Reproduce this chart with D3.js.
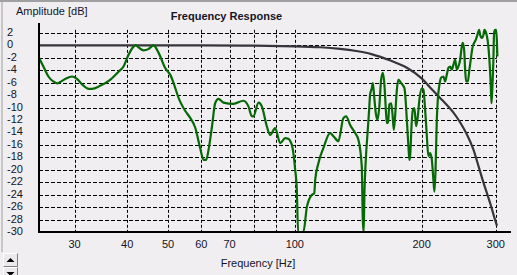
<!DOCTYPE html>
<html>
<head>
<meta charset="utf-8">
<script src="https://cdn.jsdelivr.net/npm/d3@7/dist/d3.min.js"></script>
<style>
  html, body { margin: 0; padding: 0; background: #f0eef0; }
  svg { display: block; }
  text { font-family: "Liberation Sans", Arial, sans-serif; font-size: 11px; fill: #141428; }
</style>
</head>
<body>
<svg id="chart" width="517" height="275"></svg>
<script>
// ---- data ----
const xTickLabels = [30, 40, 50, 60, 70, 100, 200, 300];
const xGridValues = [30, 40, 50, 60, 70, 80, 90, 100, 200, 300];
const yTickLabels = [2, 0, -2, -4, -6, -8, -10, -12, -14, -16, -18, -20, -22, -24, -26, -28, -30];

// target (black) curve: frequency [Hz], amplitude [dB]
const targetFreq = [24.7, 60, 80, 100, 115, 128, 140, 152, 168, 184.5, 200, 209, 221, 238, 247, 256, 265, 271, 280, 291, 299, 302];
const targetDb   = [0, 0, -0.05, -0.15, -0.3, -0.55, -0.9, -1.4, -2.4, -3.6, -5.3, -6.7, -8.4, -10.8, -12.4, -14.3, -16.6, -18.7, -21.9, -25.4, -28.1, -29.0];

// measured (green) response: frequency [Hz], amplitude [dB]
const measFreq = [24.7, 25.3, 26.0, 26.7, 27.3, 27.7, 28.5, 29.6, 30.3, 31.3, 32.4, 33.0, 34.5, 36.5, 38.2, 39.2, 40.3, 41.4, 41.9, 42.7,
  43.7, 44.9, 46.2, 47.5, 49.2, 50.6, 53.4, 54.9, 56.5, 58.0, 59.6, 60.7, 61.6, 62.4, 63.6, 64.7, 65.9, 67.7, 71.5, 75.5,
  77.6, 79.1, 79.7, 82.0, 83.5, 85.8, 87.4, 89.8, 92.3, 94.9, 96.4, 98.4, 100.2, 101.1, 101.8, 104.8, 106.8, 109.8, 111.2, 111.8,
  113.8, 116.9, 121.3, 123.5, 126.9, 130.4, 132.4, 135.3, 139.1, 141.6, 144.2, 145.0, 145.7, 146.3, 147.4, 149.0, 150.1, 150.9, 152.3, 153.2,
  154.3, 155.7, 157.1, 158.6, 160.3, 161.8, 163.2, 164.5, 165.4, 166.5, 167.7, 169.3, 170.5, 171.8, 173.0, 174.7, 176.2, 178.8, 182.1, 184.5,
  186.1, 187.1, 187.8, 189.6, 190.6, 192.3, 194.1, 195.9, 197.6, 200.2, 202.0, 203.9, 205.8, 207.5, 209.5, 211.5, 213.3, 214.5, 215.7, 217.3,
  218.5, 220.5, 222.5, 225.3, 227.4, 229.5, 231.5, 233.7, 235.9, 238.0, 240.2, 242.4, 244.5, 246.9, 249.1, 250.5, 252.3, 253.7, 255.1, 257.4,
  259.7, 262.2, 264.0, 266.5, 268.9, 271.3, 273.9, 275.3, 278.0, 280.4, 281.9, 284.6, 287.2, 289.7, 291.9, 293.0, 294.5, 296.1, 297.2, 298.8,
  300.5, 301.7, 302.6];
const measDb = [-2.0, -3.4, -5.0, -5.8, -6.1, -5.9, -5.4, -5.0, -5.3, -6.3, -7.0, -7.0, -6.5, -5.5, -4.2, -3.4, -1.5, -0.2, 0.05, -0.4,
  -0.8, -0.6, 0.0, -1.2, -3.6, -4.7, -9.0, -10.5, -11.7, -13.2, -16.5, -18.4, -18.4, -16.8, -13.0, -9.3, -8.6, -9.2, -9.4, -8.9,
  -9.8, -11.4, -11.4, -9.2, -9.8, -13.0, -14.4, -13.3, -15.7, -14.9, -15.0, -16.0, -20.0, -23.2, -30, -30, -26.0, -24.0, -23.8, -21.6,
  -18.9, -16.5, -14.1, -14.6, -15.4, -11.7, -11.4, -12.8, -14.1, -15.2, -19.5, -28.0, -30, -23.8, -18.4, -13.6, -10.4, -7.9, -6.9, -6.05,
  -8.2, -10.9, -12.0, -10.1, -5.5, -4.4, -6.3, -10.4, -12.5, -12.3, -9.5, -9.3, -10.9, -13.6, -11.4, -7.1, -5.5, -6.05, -6.9, -12.0,
  -16.3, -18.4, -17.8, -12.0, -10.4, -10.1, -13.0, -11.4, -8.7, -6.9, -7.1, -10.4, -14.6, -17.8, -17.3, -18.4, -21.6, -23.5, -20.5, -12.0,
  -8.7, -6.3, -5.2, -5.0, -5.8, -4.7, -3.6, -3.4, -3.9, -3.1, -2.3, -3.9, -3.4, -2.3, -0.2, 0.4, -0.7, -3.9, -5.8, -5.8,
  -3.9, -1.8, -0.4, 0.4, 0.9, 1.7, 2.5, 1.7, 1.2, 1.7, 2.5, 2.0, 0.6, -2.3, -6.6, -9.3, -6.6, -2.3, 2.0, 2.5,
  2.5, 0.9, -1.8];

// ---- layout ----
const svg = d3.select("#chart");
const W = 517, H = 275;
const plot = { left: 39, right: 511, top: 23, bottom: 232 };

const x = d3.scaleLog().domain([24.7, 326]).range([plot.left, plot.right]);
const y = d3.scaleLinear().domain([-30, 3.6]).range([plot.bottom, plot.top]);

// window frame (sunken border)
svg.append("rect").attr("x", 0).attr("y", 0).attr("width", W).attr("height", H).attr("fill", "#f0eef0");
svg.append("line").attr("x1", 0).attr("x2", W).attr("y1", 1).attr("y2", 1).attr("stroke", "#a0a0a0").attr("stroke-width", 2);
svg.append("line").attr("x1", 2).attr("x2", 2).attr("y1", 0).attr("y2", 252).attr("stroke", "#a0a0a0").attr("stroke-width", 1);

// clip path
svg.append("defs").append("clipPath").attr("id", "clip")
  .append("rect").attr("x", plot.left).attr("y", plot.top)
  .attr("width", plot.right - plot.left).attr("height", plot.bottom - plot.top);

const gridRight = x(300) + 1;

// horizontal grid
svg.append("g").selectAll("line").data(yTickLabels.filter(v => v > -30)).join("line")
  .attr("x1", plot.left).attr("x2", gridRight)
  .attr("y1", d => Math.round(y(d)) + 0.5).attr("y2", d => Math.round(y(d)) + 0.5)
  .attr("stroke", "#000").attr("stroke-width", 1).attr("stroke-dasharray", "4,2");

// vertical grid
svg.append("g").selectAll("line").data(xGridValues).join("line")
  .attr("x1", d => Math.round(x(d)) + 0.5).attr("x2", d => Math.round(x(d)) + 0.5)
  .attr("y1", y(2.5)).attr("y2", plot.bottom)
  .attr("stroke", "#000").attr("stroke-width", 1).attr("stroke-dasharray", "3,2");

// curves
const targetLine = d3.line().x(d => x(d[0])).y(d => y(d[1])).curve(d3.curveCatmullRom.alpha(0.5));
const measLine = d3.line().x(d => x(d[0])).y(d => y(d[1])).curve(d3.curveMonotoneX);
const targetData = targetFreq.map((f, i) => [f, targetDb[i]]);
const measData = measFreq.map((f, i) => [f, measDb[i]]);

const g = svg.append("g").attr("clip-path", "url(#clip)");
g.append("path").datum(targetData).attr("d", targetLine)
  .attr("fill", "none").attr("stroke", "#38343c").attr("stroke-width", 2.2);
g.append("path").datum(measData).attr("d", measLine)
  .attr("fill", "none").attr("stroke", "#066806").attr("stroke-width", 2.2).attr("stroke-linejoin", "round");

// axes lines
svg.append("line").attr("x1", plot.left).attr("x2", plot.left).attr("y1", plot.top).attr("y2", plot.bottom + 1)
  .attr("stroke", "#000").attr("stroke-width", 2);
svg.append("line").attr("x1", plot.left - 1).attr("x2", plot.right).attr("y1", plot.bottom).attr("y2", plot.bottom)
  .attr("stroke", "#000").attr("stroke-width", 2);

// y tick labels
svg.append("g").selectAll("text").data(yTickLabels).join("text")
  .attr("x", 7).attr("y", d => y(d) + 3)
  .text(d => d);

// x tick labels
svg.append("g").selectAll("text").data(xTickLabels).join("text")
  .attr("x", d => x(d)).attr("y", 248).attr("text-anchor", "middle")
  .text(d => d);

// titles
svg.append("text").attr("x", 16).attr("y", 15).text("Amplitude [dB]");
svg.append("text").attr("x", 226.5).attr("y", 19.5).attr("text-anchor", "middle")
  .style("font-weight", "bold").text("Frequency Response");
svg.append("text").attr("x", 258).attr("y", 266.5).attr("text-anchor", "middle").text("Frequency [Hz]");

// scroll buttons (bottom-left)
function button(y0, up) {
  const b = svg.append("g");
  b.append("rect").attr("x", 3).attr("y", y0).attr("width", 15).attr("height", 14).attr("fill", "#ece9ec");
  b.append("path").attr("d", `M3.5,${y0 + 13.5}V${y0 + 0.5}H17.5`).attr("stroke", "#fff").attr("fill", "none");
  b.append("path").attr("d", `M3.5,${y0 + 13.5}H17.5V${y0 + 0.5}`).attr("stroke", "#808080").attr("fill", "none");
  const cx = 10.5, cy = y0 + 7;
  const tri = up ? `M${cx - 4},${cy + 2}L${cx + 4},${cy + 2}L${cx},${cy - 2}Z`
                 : `M${cx - 4},${cy - 2}L${cx + 4},${cy - 2}L${cx},${cy + 2}Z`;
  b.append("path").attr("d", tri).attr("fill", "#000");
}
button(253, true);
button(267, false);
</script>
</body>
</html>
